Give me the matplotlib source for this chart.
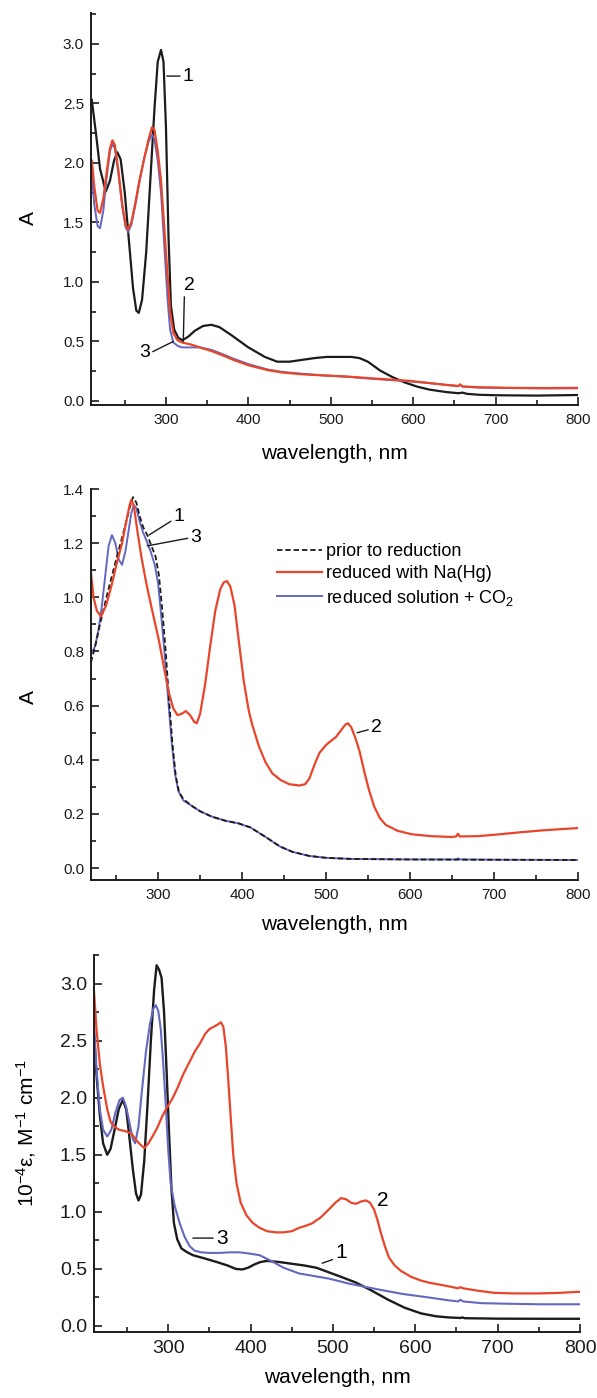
import matplotlib
matplotlib.use("Agg")
import matplotlib.pyplot as plt
from matplotlib.ticker import MultipleLocator, FormatStrFormatter

plt.rcParams["font.family"] = ["Liberation Sans", "DejaVu Sans"]
plt.rcParams["mathtext.fontset"] = "custom"
plt.rcParams["mathtext.rm"] = "Liberation Sans"
plt.rcParams["mathtext.it"] = "Liberation Sans:italic"
plt.rcParams["mathtext.default"] = "regular"

BLACK = "#1b1b1b"
RED = "#e8452a"
BLUE = "#6468c0"

# ---- panel (a): absorbance spectra
wl_a1 = [210, 215, 220, 227, 232, 237, 241, 245, 250, 255, 260, 264, 267, 271, 276, 281, 286, 290, 294, 297,
         300, 303, 306, 310, 315, 320, 327, 335, 345, 355, 365, 380, 400, 420, 435, 450, 465, 480, 495, 510,
         525, 535, 545, 560, 575, 590, 605, 620, 640, 655, 660, 665, 680, 700, 750, 800]
a1 = [2.53, 2.25, 1.95, 1.76, 1.85, 2.02, 2.09, 2.03, 1.75, 1.35, 0.95, 0.76, 0.74, 0.85, 1.25, 1.85, 2.45, 2.85, 2.95, 2.85,
      2.30, 1.40, 0.80, 0.60, 0.53, 0.51, 0.54, 0.59, 0.63, 0.64, 0.62, 0.55, 0.45, 0.37, 0.33, 0.33, 0.345, 0.36, 0.37, 0.37,
      0.37, 0.36, 0.33, 0.255, 0.20, 0.155, 0.12, 0.095, 0.075, 0.065, 0.07, 0.06, 0.052, 0.048, 0.045, 0.05]

wl_a2 = [210, 213, 217, 220, 224, 228, 232, 235, 238, 242, 247, 251, 254, 258, 263, 268, 274, 279, 283, 286,
         290, 294, 298, 302, 305, 309, 314, 320, 330, 341, 355, 370, 382, 400, 423, 440, 463, 490, 520, 550,
         594, 620, 640, 655, 657, 660, 680, 720, 760, 800]
a2 = [2.02, 1.80, 1.60, 1.58, 1.70, 1.92, 2.12, 2.19, 2.15, 1.95, 1.65, 1.48, 1.44, 1.50, 1.67, 1.86, 2.05, 2.20, 2.30, 2.28,
      2.10, 1.85, 1.45, 1.05, 0.75, 0.57, 0.51, 0.49, 0.475, 0.45, 0.42, 0.38, 0.345, 0.30, 0.26, 0.24, 0.225, 0.215, 0.205, 0.19,
      0.17, 0.15, 0.135, 0.125, 0.14, 0.122, 0.115, 0.11, 0.108, 0.11]

wl_a3 = [210, 213, 217, 220, 224, 228, 232, 235, 238, 242, 247, 251, 254, 258, 263, 268, 274, 279, 283, 286,
         290, 294, 298, 302, 305, 309, 315, 320, 330, 341, 355, 370, 382, 400, 423, 440, 463, 490, 520, 550,
         594, 620, 640, 655, 657, 660, 680, 720, 760, 800]
a3 = [1.90, 1.65, 1.47, 1.45, 1.60, 1.88, 2.10, 2.16, 2.12, 1.93, 1.63, 1.46, 1.42, 1.48, 1.65, 1.85, 2.05, 2.18, 2.24, 2.20,
      2.02, 1.75, 1.30, 0.85, 0.60, 0.49, 0.46, 0.45, 0.45, 0.45, 0.43, 0.39, 0.355, 0.31, 0.265, 0.245, 0.23, 0.215, 0.203, 0.186,
      0.165, 0.15, 0.135, 0.125, 0.135, 0.12, 0.112, 0.108, 0.106, 0.106]

# ---- panel (b): reduction experiment
wl_b1 = [220, 225, 230, 233, 240, 245, 250, 257, 262, 266, 270, 274, 278, 282, 287, 292, 297, 301, 305, 309,
         313, 317, 321, 325, 330, 340, 350, 364, 380, 396, 410, 428, 445, 460, 480, 500, 530, 600, 700, 800]
b1 = [0.76, 0.82, 0.89, 0.93, 1.02, 1.08, 1.14, 1.22, 1.28, 1.33, 1.37, 1.35, 1.30, 1.26, 1.23, 1.19, 1.15, 1.08, 0.95, 0.80,
      0.62, 0.46, 0.34, 0.28, 0.255, 0.23, 0.21, 0.19, 0.175, 0.165, 0.15, 0.115, 0.08, 0.06, 0.045, 0.038, 0.034, 0.032, 0.031, 0.03]

wl_b2 = [220, 223, 227, 232, 238, 245, 251, 257, 262, 266, 268, 271, 275, 280, 286, 293, 301, 307, 313, 318,
         323, 328, 333, 338, 343, 346, 350, 356, 362, 368, 374, 378, 382, 386, 391, 396, 402, 408, 412, 420,
         428, 436, 446, 456, 468, 475, 480, 486, 492, 500, 506, 512, 518, 523, 526, 530, 535, 540, 546, 551,
         557, 564, 571, 585, 602, 625, 650, 655, 657, 659, 680, 700, 730, 760, 800]
b2 = [1.09, 1.00, 0.95, 0.93, 0.97, 1.05, 1.13, 1.20, 1.28, 1.34, 1.36, 1.34, 1.25, 1.15, 1.05, 0.95, 0.84, 0.74, 0.645, 0.59,
      0.565, 0.57, 0.58, 0.565, 0.54, 0.535, 0.57, 0.68, 0.82, 0.95, 1.03, 1.055, 1.06, 1.04, 0.97, 0.84, 0.69, 0.58, 0.53, 0.45,
      0.39, 0.35, 0.325, 0.31, 0.305, 0.31, 0.33, 0.38, 0.425, 0.455, 0.47, 0.485, 0.51, 0.53, 0.535, 0.52, 0.48, 0.43, 0.35, 0.29,
      0.23, 0.185, 0.16, 0.138, 0.125, 0.118, 0.115, 0.117, 0.127, 0.117, 0.118, 0.123, 0.132, 0.14, 0.148]

wl_b3 = [220, 225, 229, 233, 237, 241, 245, 249, 253, 257, 261, 265, 268, 271, 274, 278, 282, 286, 291, 296,
         300, 304, 308, 312, 316, 320, 324, 330, 340, 350, 364, 380, 396, 410, 428, 445, 460, 480, 500, 530,
         600, 655, 657, 660, 700, 800]
b3 = [0.79, 0.82, 0.88, 0.97, 1.08, 1.19, 1.23, 1.20, 1.14, 1.12, 1.17, 1.25, 1.31, 1.34, 1.33, 1.28, 1.24, 1.21, 1.17, 1.12,
      1.05, 0.92, 0.78, 0.62, 0.47, 0.35, 0.285, 0.25, 0.23, 0.21, 0.19, 0.175, 0.165, 0.15, 0.115, 0.08, 0.06, 0.045, 0.038, 0.034,
      0.032, 0.032, 0.036, 0.032, 0.031, 0.03]

legend_labels = ["prior to reduction", "reduced with Na(Hg)", "reduced solution + CO$_2$"]

# ---- panel (c): molar absorptivity
wl_c1 = [210, 213, 217, 221, 226, 230, 235, 240, 245, 249, 253, 257, 261, 264, 267, 271, 275, 279, 283, 286,
         289, 292, 295, 298, 301, 304, 307, 311, 316, 322, 330, 345, 359, 372, 382, 390, 397, 405, 412, 420,
         435, 450, 465, 480, 495, 510, 528, 547, 567, 587, 607, 625, 640, 655, 657, 660, 700, 750, 800]
c1 = [2.55, 2.20, 1.85, 1.60, 1.50, 1.55, 1.72, 1.90, 1.98, 1.90, 1.65, 1.38, 1.16, 1.10, 1.15, 1.45, 1.95, 2.50, 2.95, 3.16,
      3.12, 3.05, 2.75, 2.25, 1.70, 1.20, 0.90, 0.76, 0.68, 0.65, 0.62, 0.59, 0.56, 0.53, 0.50, 0.495, 0.51, 0.54, 0.56, 0.57,
      0.56, 0.545, 0.53, 0.51, 0.47, 0.43, 0.38, 0.31, 0.23, 0.16, 0.11, 0.085, 0.075, 0.07, 0.075, 0.068, 0.064, 0.063, 0.063]

wl_c2 = [210, 213, 217, 221, 226, 230, 234, 240, 246, 251, 256, 261, 266, 271, 276, 281, 287, 293, 299, 305,
         311, 318, 325, 332, 339, 345, 350, 355, 360, 364, 367, 370, 373, 376, 379, 383, 388, 395, 403, 411,
         420, 431, 440, 450, 459, 468, 475, 485, 495, 503, 510, 516, 522, 528, 534, 540, 545, 550, 554, 558,
         563, 568, 575, 583, 595, 606, 616, 635, 652, 655, 658, 675, 696, 720, 750, 775, 800]
c2 = [2.93, 2.60, 2.30, 2.10, 1.90, 1.79, 1.75, 1.72, 1.71, 1.70, 1.68, 1.63, 1.59, 1.56, 1.60, 1.66, 1.74, 1.84, 1.92, 1.99,
      2.08, 2.20, 2.30, 2.40, 2.48, 2.56, 2.60, 2.62, 2.64, 2.66, 2.62, 2.45, 2.15, 1.82, 1.50, 1.25, 1.08, 0.97, 0.90, 0.86,
      0.83, 0.82, 0.82, 0.83, 0.86, 0.88, 0.90, 0.95, 1.02, 1.08, 1.12, 1.11, 1.08, 1.07, 1.09, 1.10, 1.08, 1.02, 0.93, 0.82,
      0.70, 0.60, 0.53, 0.48, 0.43, 0.40, 0.38, 0.355, 0.33, 0.34, 0.33, 0.31, 0.29, 0.285, 0.285, 0.29, 0.30]

wl_c3 = [210, 213, 217, 221, 226, 231, 236, 241, 245, 249, 253, 257, 260, 264, 268, 273, 278, 282, 285, 288,
         291, 294, 297, 300, 303, 308, 314, 320, 326, 332, 340, 350, 362, 375, 387, 398, 411, 425, 440, 459,
         475, 495, 520, 555, 585, 616, 640, 652, 655, 658, 680, 710, 750, 800]
c3 = [2.65, 2.25, 1.90, 1.72, 1.66, 1.72, 1.87, 1.98, 2.00, 1.92, 1.78, 1.64, 1.60, 1.75, 2.05, 2.40, 2.65, 2.78, 2.81, 2.76,
      2.60, 2.30, 1.95, 1.55, 1.25, 1.05, 0.90, 0.78, 0.70, 0.66, 0.645, 0.64, 0.64, 0.645, 0.645, 0.635, 0.62, 0.57, 0.51, 0.46,
      0.44, 0.415, 0.37, 0.32, 0.28, 0.25, 0.225, 0.215, 0.23, 0.215, 0.20, 0.195, 0.19, 0.19]


def style_axes(ax, xlim, ylim, ymajor, yminor, fs):
    ax.set_xlim(*xlim)
    ax.set_ylim(*ylim)
    for side in ("top", "right"):
        ax.spines[side].set_visible(False)
    for side in ("left", "bottom"):
        ax.spines[side].set_linewidth(1.4)
        ax.spines[side].set_color(BLACK)
    ax.xaxis.set_major_locator(MultipleLocator(100))
    ax.xaxis.set_minor_locator(MultipleLocator(50))
    ax.yaxis.set_major_locator(MultipleLocator(ymajor))
    ax.yaxis.set_minor_locator(MultipleLocator(yminor))
    ax.yaxis.set_major_formatter(FormatStrFormatter("%.1f"))
    ax.tick_params(which="both", direction="in", width=1.2, colors=BLACK, labelsize=fs)
    ax.tick_params(which="major", length=6)
    ax.tick_params(which="minor", length=3.5)
    ax.tick_params(axis="x", pad=6)
    ax.tick_params(axis="y", pad=5)


fig = plt.figure(figsize=(5.97, 13.98), dpi=100)
lead = dict(arrowstyle="-", lw=1.0, color=BLACK, shrinkA=0, shrinkB=0)

# panel (a)
ax1 = fig.add_axes([0.1524, 0.7103, 0.8157, 0.2804])
ax1.plot(wl_a1, a1, color=BLACK, lw=1.6)
ax1.plot(wl_a3, a3, color=BLUE, lw=1.4)
ax1.plot(wl_a2, a2, color=RED, lw=1.6)
style_axes(ax1, (209, 800), (-0.034, 3.26), 0.5, 0.25, 11)
ax1.set_xlabel("wavelength, nm", fontsize=15)
ax1.set_ylabel("A", fontsize=15)
ax1.xaxis.set_label_coords(0.5, -0.10)
ax1.yaxis.set_label_coords(-0.108, 0.477)
ax1.annotate("1", xy=(301, 2.73), xytext=(327, 2.73), fontsize=14, ha="center", va="center",
             arrowprops=dict(lead, relpos=(0, 0.5)))
ax1.annotate("2", xy=(321, 0.50), xytext=(329, 0.97), fontsize=14, ha="center", va="center",
             arrowprops=dict(lead, relpos=(0, 0)))
ax1.annotate("3", xy=(309, 0.50), xytext=(274, 0.41), fontsize=14, ha="center", va="center",
             arrowprops=dict(lead, relpos=(1, 0.45)))

# panel (b)
ax2 = fig.add_axes([0.1524, 0.3705, 0.8157, 0.2797])
ax2.plot(wl_b3, b3, color=BLUE, lw=1.4, label=legend_labels[2])
ax2.plot(wl_b1, b1, color=BLACK, lw=1.3, ls=(0, (3, 1.6)), label=legend_labels[0])
ax2.plot(wl_b2, b2, color=RED, lw=1.6, label=legend_labels[1])
style_axes(ax2, (220, 800), (-0.044, 1.40), 0.2, 0.1, 11)
ax2.set_xlabel("wavelength, nm", fontsize=15)
ax2.set_ylabel("A", fontsize=15)
ax2.xaxis.set_label_coords(0.5, -0.09)
ax2.yaxis.set_label_coords(-0.108, 0.468)
handles, labels = ax2.get_legend_handles_labels()
order = [1, 2, 0]
ax2.legend([handles[i] for i in order], [labels[i] for i in order], loc="upper left",
           bbox_to_anchor=(0.382, 0.862), frameon=False, fontsize=13, handlelength=2.5,
           handletextpad=0.2, labelspacing=0.3, borderpad=0, borderaxespad=0)
ax2.annotate("1", xy=(289, 1.23), xytext=(325, 1.30), fontsize=14, ha="center", va="center",
             arrowprops=dict(lead, relpos=(0, 0.3)))
ax2.annotate("3", xy=(287, 1.19), xytext=(345, 1.22), fontsize=14, ha="center", va="center",
             arrowprops=dict(lead, relpos=(0, 0.5)))
ax2.annotate("2", xy=(537, 0.50), xytext=(560, 0.52), fontsize=14, ha="center", va="center",
             arrowprops=dict(lead, relpos=(0, 0.4)))

# panel (c)
ax3 = fig.add_axes([0.1575, 0.0472, 0.8141, 0.2697])
ax3.plot(wl_c1, c1, color=BLACK, lw=1.7)
ax3.plot(wl_c3, c3, color=BLUE, lw=1.5)
ax3.plot(wl_c2, c2, color=RED, lw=1.6)
style_axes(ax3, (210, 800), (-0.053, 3.25), 0.5, 0.25, 14)
ax3.set_xlabel("wavelength, nm", fontsize=15)
ax3.set_ylabel("10$^{-4}$ε, M$^{-1}$ cm$^{-1}$", fontsize=15)
ax3.xaxis.set_label_coords(0.5, -0.095)
ax3.yaxis.set_label_coords(-0.115, 0.528)
ax3.annotate("3", xy=(330, 0.77), xytext=(365, 0.77), fontsize=15, ha="center", va="center",
             arrowprops=dict(lead, relpos=(0, 0.5)))
ax3.annotate("1", xy=(487, 0.55), xytext=(510, 0.64), fontsize=15, ha="center", va="center",
             arrowprops=dict(lead, relpos=(0, 0.2)))
ax3.text(560, 1.10, "2", fontsize=15, ha="center", va="center")

fig.savefig("out.png", dpi=100)
